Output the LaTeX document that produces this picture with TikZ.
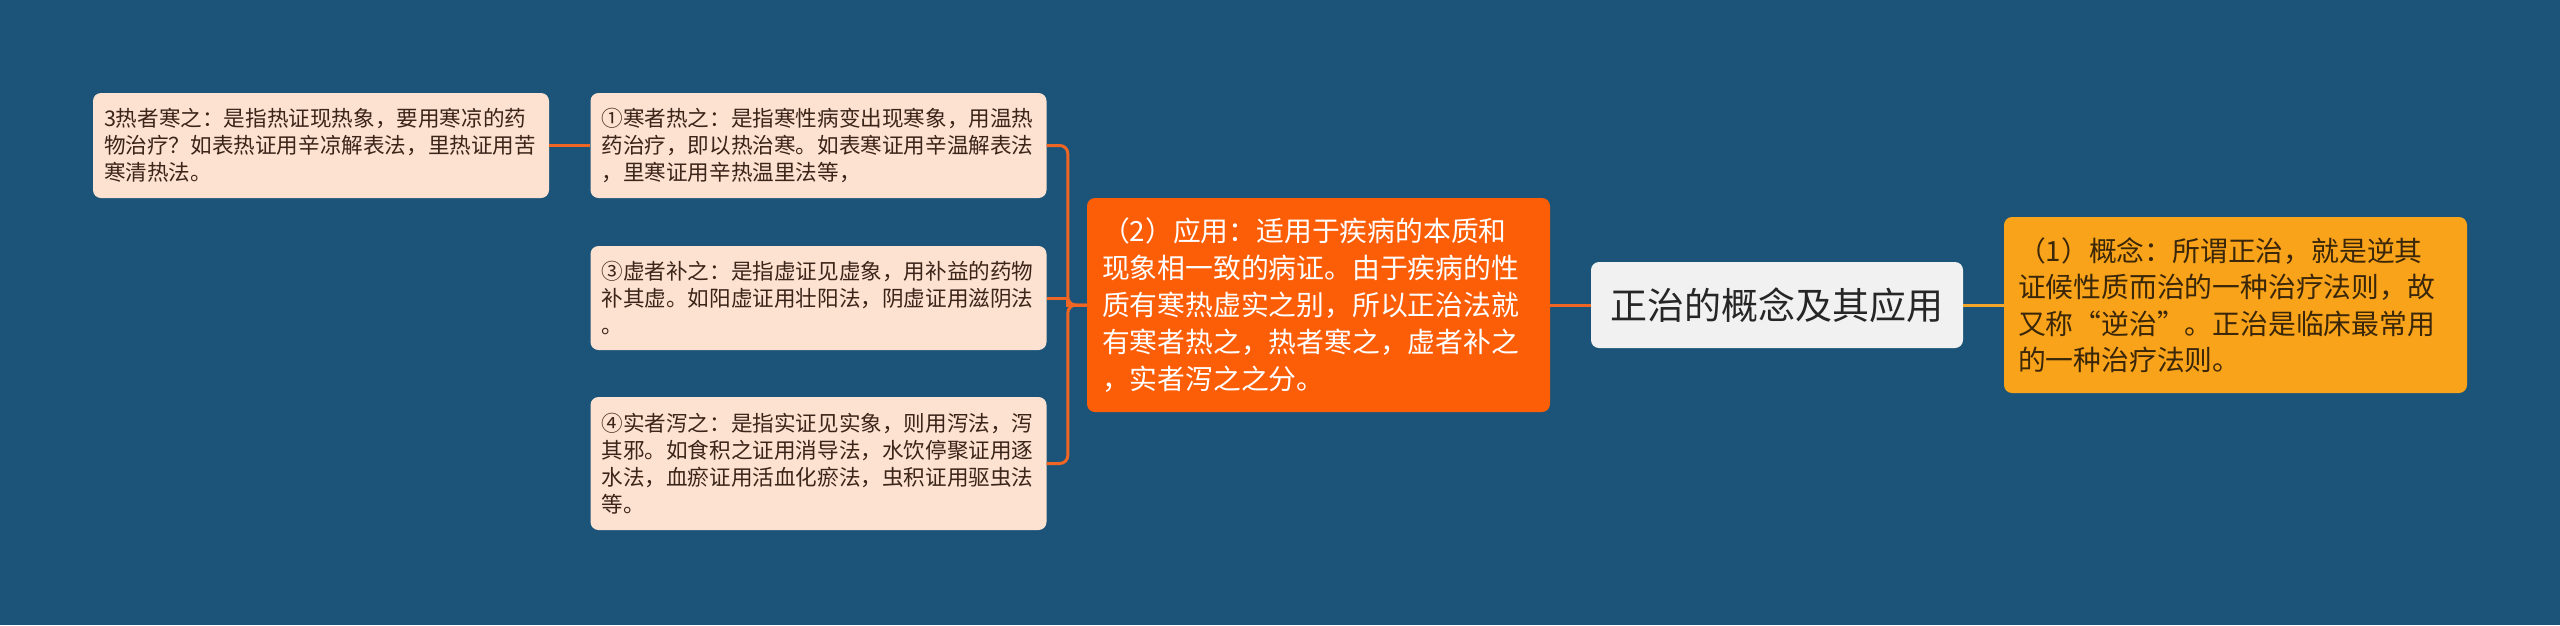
\documentclass[tikz,border=0pt]{standalone}
\usepackage{fontspec}
\newfontfamily\cjk{Noto Sans CJK SC}

\definecolor{bgblue}{HTML}{1B5478}
\definecolor{leaffill}{HTML}{FDE2D2}
\definecolor{leaftext}{HTML}{3B2518}
\definecolor{appfill}{HTML}{FC5D07}
\definecolor{rootfill}{HTML}{F1F1F1}
\definecolor{roottext}{HTML}{262626}
\definecolor{conceptfill}{HTML}{F9A31B}
\definecolor{concepttext}{HTML}{3A2608}
\definecolor{linkorange}{HTML}{EE6524}
\definecolor{linkyellow}{HTML}{F4A62A}

\tikzset{
  leaf/.style={rectangle, rounded corners=8pt, fill=leaffill, text=leaftext,
    font=\cjk\fontsize{21.6}{27}\selectfont, text width=434pt, inner xsep=11pt,
    align=left},
  appbox/.style={rectangle, rounded corners=8pt, fill=appfill, text=white,
    font=\cjk\fontsize{27.8}{37}\selectfont, text width=433pt, inner xsep=15pt,
    align=left, minimum height=214pt},
  rootbox/.style={rectangle, rounded corners=8pt, fill=rootfill, text=roottext,
    font=\cjk\fontsize{37}{44}\selectfont, minimum width=372pt, minimum height=86pt},
  conceptbox/.style={rectangle, rounded corners=8pt, fill=conceptfill, text=concepttext,
    font=\cjk\fontsize{27.8}{36.5}\selectfont, text width=435pt, inner xsep=14pt,
    align=left, minimum height=176pt},
  link/.style={draw=linkorange, line width=3pt},
}

\begin{document}
\begin{tikzpicture}[x=1pt, y=-1pt]
    \fill[bgblue] (0, 0) rectangle (2560, 625);

    % middle and right
    \node[rootbox] (root) at (1777, 305) {正治的概念及其应用};
    \node[conceptbox] (concept) at (2235.5, 305) {（1）概念：所谓正治，就是逆其\\证候性质而治的一种治疗法则，故\\又称“逆治”。正治是临床最常用\\的一种治疗法则。};
    \node[appbox] (app) at (1318.5, 305) {（2）应用：适用于疾病的本质和\\现象相一致的病证。由于疾病的性\\质有寒热虚实之别，所以正治法就\\有寒者热之，热者寒之，虚者补之\\，实者泻之之分。};

    % leaves
    \node[leaf, minimum height=105pt] (hanre) at (818.5, 145.5) {①寒者热之：是指寒性病变出现寒象，用温热\\药治疗，即以热治寒。如表寒证用辛温解表法\\，里寒证用辛热温里法等，};
    \node[leaf, minimum height=104pt] (xubu) at (818.5, 298) {③虚者补之：是指虚证见虚象，用补益的药物\\补其虚。如阳虚证用壮阳法，阴虚证用滋阴法\\。};
    \node[leaf, minimum height=133pt] (shixie) at (818.5, 463.5) {④实者泻之：是指实证见实象，则用泻法，泻\\其邪。如食积之证用消导法，水饮停聚证用逐\\水法，血瘀证用活血化瘀法，虫积证用驱虫法\\等。};
    \node[leaf, minimum height=105pt] (rehan) at (321, 145.5) {3热者寒之：是指热证现热象，要用寒凉的药\\物治疗？如表热证用辛凉解表法，里热证用苦\\寒清热法。};

    \draw[link, draw=linkyellow] (root.east) -- (concept.west);
    \draw[link] (app.east) -- (root.west);
    \draw[link, rounded corners=8pt] (app.west) -- ++(-19, 0) |- (hanre.east);
    \draw[link] (app.west) -- ++(-19, 0) |- (xubu.east);
    \draw[link, rounded corners=8pt] (app.west) -- ++(-19, 0) |- (shixie.east);
    \draw[link] (hanre.west) -- (rehan.east);
\end{tikzpicture}
\end{document}
